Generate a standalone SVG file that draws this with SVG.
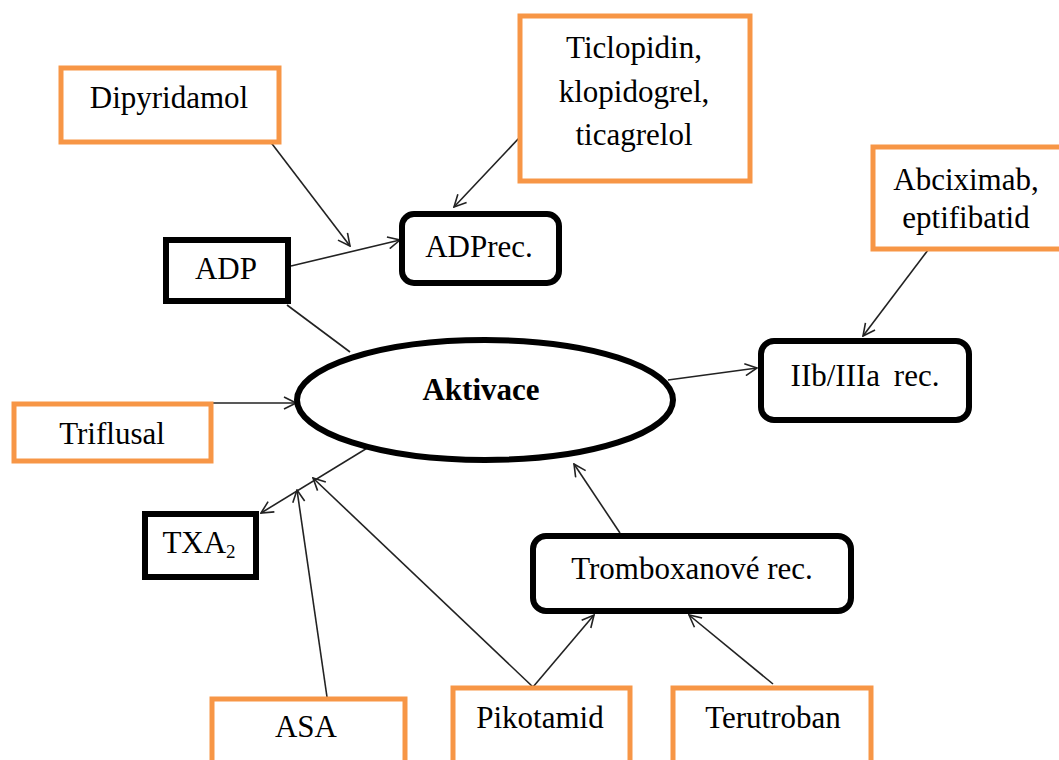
<svg xmlns="http://www.w3.org/2000/svg" width="1059" height="760" viewBox="0 0 1059 760">
<style>
.drug{fill:#fff;stroke:#F79646;stroke-width:5}
.blk{fill:#fff;stroke:#000;stroke-width:6}
.t{font-family:"Liberation Serif","Times New Roman",serif;font-size:31px;fill:#000;text-anchor:middle}
.b{font-weight:bold}
.c line{stroke:#222;stroke-width:1.6;fill:none}
</style>
<defs>
<marker id="a" viewBox="0 0 14 14" refX="13" refY="7" markerWidth="14" markerHeight="14" markerUnits="userSpaceOnUse" orient="auto">
<path d="M1,1 L13,7 L1,13" fill="none" stroke="#222" stroke-width="1.6"/>
</marker>
</defs>
<rect width="1059" height="760" fill="#fff"/>
<g class="c" id="connectors">
<line x1="263" y1="132" x2="350" y2="246" marker-end="url(#a)"/>
<line x1="520" y1="137" x2="454" y2="207" marker-end="url(#a)"/>
<line x1="291" y1="266" x2="400" y2="240" marker-end="url(#a)"/>
<line x1="287" y1="305" x2="350" y2="352"/>
<line x1="928" y1="250" x2="863" y2="336" marker-end="url(#a)"/>
<line x1="668" y1="380" x2="757" y2="368" marker-end="url(#a)"/>
<line x1="213" y1="403" x2="296" y2="403" marker-end="url(#a)"/>
<line x1="400" y1="428" x2="261" y2="513" marker-end="url(#a)"/>
<line x1="327" y1="697" x2="297" y2="490" marker-end="url(#a)"/>
<line x1="533" y1="687" x2="313" y2="478" marker-end="url(#a)"/>
<line x1="533" y1="687" x2="594" y2="615" marker-end="url(#a)"/>
<line x1="773" y1="684" x2="689" y2="615" marker-end="url(#a)"/>
<line x1="620" y1="533" x2="574" y2="464" marker-end="url(#a)"/>
</g>
<g id="dipyridamol"><rect class="drug" x="61" y="68" width="218" height="74"/><text class="t" x="169" y="108">Dipyridamol</text></g>
<g id="ticlopidin"><rect class="drug" x="520" y="16" width="230" height="165"/><text class="t" x="634" y="58">Ticlopidin,</text><text class="t" x="634" y="102">klopidogrel,</text><text class="t" x="634" y="145">ticagrelol</text></g>
<g id="adp"><rect class="blk" x="166" y="240" width="122" height="61"/><text class="t" x="226" y="279">ADP</text></g>
<g id="adprec"><rect class="blk" x="402" y="214" width="157" height="69" rx="12"/><text class="t" x="479" y="257">ADPrec.</text></g>
<g id="abciximab"><rect class="drug" x="873" y="147" width="200" height="102"/><text class="t" x="966" y="190">Abciximab,</text><text class="t" x="966" y="228">eptifibatid</text></g>
<g id="iib"><rect class="blk" x="761" y="341" width="208" height="79" rx="13"/><text class="t" x="865" y="386" word-spacing="6">IIb/IIIa rec.</text></g>
<g id="aktivace"><ellipse cx="485" cy="400" rx="188" ry="60" fill="#fff" stroke="#000" stroke-width="6"/><text class="t b" x="481" y="400">Aktivace</text></g>
<g id="triflusal"><rect class="drug" x="14" y="404" width="197" height="57"/><text class="t" x="112" y="444">Triflusal</text></g>
<g id="txa2"><rect class="blk" x="145" y="514" width="111" height="63"/><text class="t" x="199" y="553">TXA<tspan font-size="19" dy="5">2</tspan></text></g>
<g id="tromboxan"><rect class="blk" x="533" y="536" width="318" height="75" rx="13"/><text class="t" x="692" y="579">Tromboxanové rec.</text></g>
<g id="asa"><rect class="drug" x="212" y="699" width="193" height="80"/><text class="t" x="306" y="737">ASA</text></g>
<g id="pikotamid"><rect class="drug" x="453" y="688" width="177" height="90"/><text class="t" x="540" y="728">Pikotamid</text></g>
<g id="terutroban"><rect class="drug" x="673" y="688" width="198" height="90"/><text class="t" x="773" y="728">Terutroban</text></g>
</svg>
